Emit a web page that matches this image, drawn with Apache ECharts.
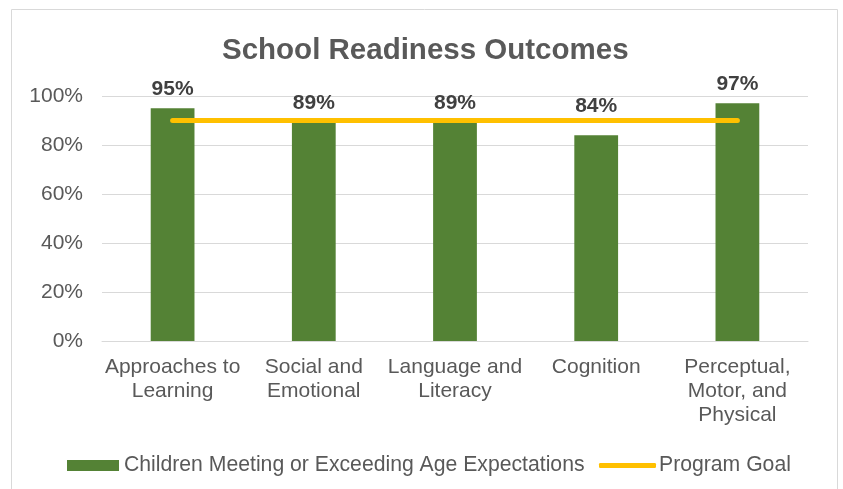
<!DOCTYPE html>
<html><head><meta charset="utf-8">
<script src="https://cdn.jsdelivr.net/npm/echarts@6/dist/echarts.min.js"></script>
<style>html,body{margin:0;padding:0;background:#fff}#c{width:843px;height:489px}</style>
</head><body><div id="c"></div>
<script>
const categories = ['Approaches to\nLearning', 'Social and\nEmotional', 'Language and\nLiteracy', 'Cognition', 'Perceptual,\nMotor, and\nPhysical'];
const childrenMeeting = [95, 89, 89, 84, 97];
const programGoal = [90, 90, 90, 90, 90];
const yTicks = [0, 20, 40, 60, 80, 100];
const labelDistances = [9, 9, 9, 18, 9];

const FONT = '"Liberation Sans", Arial, sans-serif';
const chart = echarts.init(document.getElementById('c'), null, {renderer: 'canvas'});
chart.setOption({
  animation: false,
  textStyle: {fontFamily: FONT},
  graphic: [{type: 'rect', shape: {x: 11.5, y: 9.5, width: 826, height: 500}, style: {fill: 'none', stroke: '#d9d9d9', lineWidth: 1}, silent: true}],
  title: {text: 'School Readiness Outcomes', left: 217, top: 31,
    textStyle: {fontFamily: FONT, fontSize: 29.5, fontWeight: 'bold', color: '#595959'}},
  legend: [
    {data: ['Children Meeting or Exceeding Age Expectations'], left: 67, top: 455, padding: 0, icon: 'rect',
      itemWidth: 52, itemHeight: 11,
      textStyle: {fontFamily: FONT, fontSize: 21.2, color: '#595959', padding: [0, 0, 0, 0]}},
    {data: ['Program Goal'], left: 599, top: 455, padding: 0, icon: 'roundRect',
      itemWidth: 57, itemHeight: 5,
      textStyle: {fontFamily: FONT, fontSize: 21.2, color: '#595959', padding: [0, 0, 0, -2]}}
  ],
  grid: {left: 102, right: 35, top: 96, bottom: 148},
  xAxis: {type: 'category', data: categories,
    axisLine: {show: true, lineStyle: {color: '#d9d9d9', width: 1}},
    axisTick: {show: false},
    axisLabel: {fontFamily: FONT, fontSize: 21, color: '#595959', margin: 14, lineHeight: 24, interval: 0}},
  yAxis: {type: 'value', min: 0, max: 100, interval: 20,
    axisLine: {show: false}, axisTick: {show: false},
    splitLine: {lineStyle: {color: '#d9d9d9', width: 1}},
    axisLabel: {fontFamily: FONT, fontSize: 21, color: '#595959', margin: 19,
      formatter: v => yTicks.includes(v) ? v + '%' : ''}},
  series: [
    {name: 'Children Meeting or Exceeding Age Expectations', type: 'bar', barWidth: '31%',
      itemStyle: {color: '#548235'},
      data: childrenMeeting.map((v, i) => ({value: v, label: {distance: labelDistances[i]}})),
      label: {show: true, position: 'top', formatter: '{c}%', fontFamily: FONT, fontSize: 21, fontWeight: 'bold', color: '#404040'},
      z: 2},
    {name: 'Program Goal', type: 'line', data: programGoal, symbol: 'none',
      itemStyle: {color: '#FFC000'},
      lineStyle: {color: '#FFC000', width: 5, cap: 'round'}, z: 3}
  ]
});
</script></body></html>
